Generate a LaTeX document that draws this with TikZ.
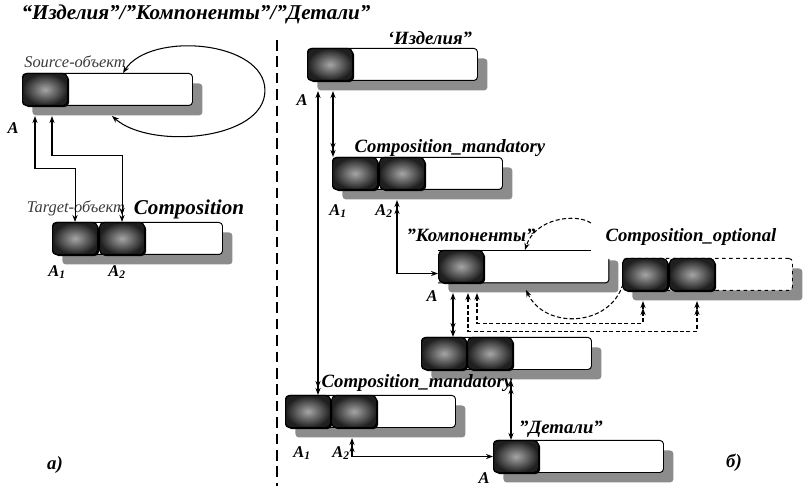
\documentclass[tikz,border=0pt]{standalone}
\usepackage{fontspec}
\setmainfont{Liberation Serif}
\usetikzlibrary{arrows.meta,shadows}
\definecolor{shadowgray}{HTML}{8C8C8C}
\definecolor{txtgray}{HTML}{3A3A3A}
\tikzset{
  body/.style={draw, fill=white, rounded corners=3pt, line width=0.8pt, minimum width=5.1cm, minimum height=0.96cm, inner sep=0pt, anchor=north west,
    drop shadow={shadow xshift=0.3cm, shadow yshift=-0.3cm, fill=shadowgray, opacity=1}},
  keybox/.style={draw=black, line width=0.9pt, rounded corners=4pt, inner color=black!35, outer color=black!88, minimum width=1.35cm, minimum height=0.96cm, inner sep=0pt, anchor=north west,
    drop shadow={shadow xshift=1.4pt, shadow yshift=-1.4pt, fill=black, opacity=1}},
  lnk/.style={line width=0.9pt, >={Stealth[length=6pt,width=4.4pt]}},
  dsh/.style={lnk, dash pattern=on 3.5pt off 2pt},
  lbl/.style={font=\bfseries\itshape\fontsize{16}{18}\selectfont, inner sep=0pt},
  biglbl/.style={font=\bfseries\itshape\fontsize{18}{20}\selectfont, inner sep=0pt},
  albl/.style={font=\bfseries\itshape\fontsize{14}{16}\selectfont, inner sep=0pt},
  role/.style={font=\itshape\fontsize{14}{16}\selectfont, text=txtgray, inner sep=0pt}
}
\begin{document}
\begin{tikzpicture}[x=0.03cm, y=-0.03cm]
    \useasboundingbox (0,0) rectangle (806,486);

    \node[biglbl] (title) at (196,14) {“Изделия”/”Компоненты”/”Детали”};
    \draw[line width=1.3pt, dash pattern=on 9pt off 5pt] (277,40) -- (277,486);

    % а)
    \node[role] (srcL) at (75,62) {Source-объект};
    \node[body] (srcB) at (22,73) {};
    \node[keybox] (srcK) at (22,73) {};
    \node[albl] (srcA) at (13,128) {A};

    \node[role] (tgtL) at (76,208) {Target-объект};
    \node[biglbl] (compL) at (189,209) {Composition};
    \node[body] (tgtB) at (52,222) {};
    \node[keybox] (tgtK1) at (52,222) {};
    \node[keybox] (tgtK2) at (99,222) {};
    \node[albl] (tgtA1) at (57,272) {A\textsubscript{1}};
    \node[albl] (tgtA2) at (117,272) {A\textsubscript{2}};
    \node[lbl] (capA) at (55,465) {а)};

    \coordinate (srcA1) at ([shift={(13,10)}]srcK.south west);
    \coordinate (srcA2) at ([shift={(30,10)}]srcK.south west);
    \coordinate (srcIn) at ([shift={(90,10)}]srcB.south west);
    \coordinate (srcOut) at ([shift={(101,0)}]srcB.north west);
    \draw[lnk,<->] (srcIn) .. controls +(38,34) and +(0,50) .. ([shift={(72,1)}]srcB.east)
        .. controls +(0,-50) and +(27,-42) .. (srcOut);
    \draw[lnk,<->] (srcA1) -- ++(0,52) -| (tgtK1.north);
    \draw[lnk,<->>] (srcA2) -- ++(0,39) -| (tgtK2.north);

    % б)
    \node[lbl] (izdL) at (430,38) {‘Изделия”};
    \node[body] (izdB) at (307,48) {};
    \node[keybox] (izdK) at (307,48) {};
    \node[albl] (izdA) at (302,100) {A};

    \node[lbl] (cm1L) at (450,148) {Composition\_mandatory};
    \node[body] (cm1B) at (332,157) {};
    \node[keybox] (cm1K1) at (332,157) {};
    \node[keybox] (cm1K2) at (379,157) {};
    \node[albl] (cm1A1) at (338,211) {A\textsubscript{1}};
    \node[albl] (cm1A2) at (384,211) {A\textsubscript{2}};

    \node[lbl] (kompL) at (471,235) {”Компоненты”};
    \node[body, draw=none] (kompB) at (438,250) {};
    \draw[line width=0.8pt] (kompB.north west) -- ([shift={(-18,0)}]kompB.north east);
    \draw[line width=0.8pt, rounded corners=3pt] ([shift={(0,9)}]kompB.north east) -- (kompB.south east) -- (kompB.south west);
    \node[keybox] (kompK) at (438,250) {};
    \node[albl] (kompA) at (432,296) {A};

    \node[lbl] (coL) at (691,237) {Composition\_optional};
    \node[body, dashed] (coB) at (622,258) {};
    \node[keybox] (coK1) at (622,258) {};
    \node[keybox] (coK2) at (669,258) {};

    \node[body] (cm3B) at (421,337) {};
    \node[keybox] (cm3K1) at (421,337) {};
    \node[keybox] (cm3K2) at (467,337) {};

    \node[lbl] (cm2L) at (417,383) {Composition\_mandatory};
    \node[body] (cm2B) at (285,395) {};
    \node[keybox] (cm2K1) at (285,395) {};
    \node[keybox] (cm2K2) at (331,395) {};
    \node[albl] (cm2A1) at (302,453) {A\textsubscript{1}};
    \node[albl] (cm2A2) at (341,453) {A\textsubscript{2}};

    \node[lbl] (detL) at (561,429) {”Детали”};
    \node[body] (detB) at (493,440) {};
    \node[keybox] (detK) at (493,440) {};
    \node[albl] (detA) at (484,478) {A};
    \node[lbl] (capB) at (734,463) {б)};

    \coordinate (izdP1) at ([shift={(11,10)}]izdK.south west);
    \coordinate (izdP2) at ([shift={(26,10)}]izdK.south west);
    \coordinate (cm1P2) at ([shift={(18,10)}]cm1K2.south west);
    \coordinate (kompP) at ([shift={(15,10)}]kompK.south west);
    \coordinate (kompD1) at ([shift={(39,10)}]kompK.south west);
    \coordinate (kompD2) at ([shift={(30,10)}]kompK.south west);
    \coordinate (coP1) at ([shift={(21,10)}]coK1.south west);
    \coordinate (coP2) at ([shift={(28,10)}]coK2.south west);
    \coordinate (cm3P2) at ([shift={(44,10)}]cm3K2.south west);
    \coordinate (cm2P2) at ([shift={(21,10)}]cm2K2.south west);
    \coordinate (kompTop) at ([shift={(87,0)}]kompB.north west);
    \coordinate (kompBot) at ([shift={(88,7)}]kompB.south west);
    \coordinate (kompArc) at ([shift={(-18,-27)}]kompB.north east);
    \coordinate (coArc) at ([shift={(1,-7)}]coK1.south west);

    \draw[lnk,<->>] (izdP1) -- (izdP1 |- cm2K1.north);
    \draw[lnk,<->>] (izdP2) -- (izdP2 |- cm1K1.north);
    \draw[lnk,<<->] (cm1P2) |- ([shift={(0,7)}]kompK.west);
    \draw[lnk,<->>] (kompP) -- (kompP |- cm3K1.north);
    \draw[lnk,<<->] (cm3P2) -- (cm3P2 |- detK.north);
    \draw[lnk,<<->] (cm2P2) |- (detK.west);
    \draw[dsh,<<->] (coP1) -- ++(0,22) -| (kompD1);
    \draw[dsh,<<->] (coP2) -- ++(0,30) -| (kompD2);
    \draw[dsh,->] (kompArc) .. controls +(-15,-10) and +(10,-32) .. (kompTop);
    \draw[dsh,->] (coArc) .. controls +(-13,43) and +(19,40) .. (kompBot);
\end{tikzpicture}
\end{document}
